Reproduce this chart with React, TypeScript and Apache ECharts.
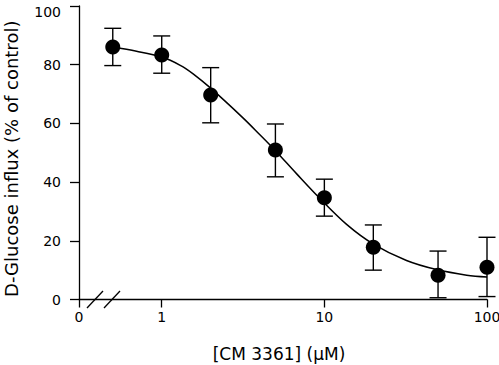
import React, { useEffect, useRef } from "react";
import * as echarts from "echarts";

// Concentrations (µM) of the measured points
const concentrations = [0.5, 1, 2, 5, 10, 20, 50, 100];
// Mean D-glucose influx (% of control)
const means = [86, 83.3, 69.7, 50.9, 34.7, 17.8, 8.3, 11];
// Error bar ends
const upper = [92.4, 89.8, 79, 59.8, 41, 25.4, 16.5, 21.2];
const lower = [79.7, 77.1, 60.2, 41.8, 28.4, 10, 0.6, 1];

// Fitted curve
const curveX = [0.5, 0.7, 1, 1.3, 1.56, 2, 3.17, 4, 5, 6.76, 9.4, 13.7, 20, 32, 49, 75, 100];
const curveY = [86, 84.6, 82.6, 79.8, 76.9, 72.0, 61.8, 56.2, 50.7, 42.8, 34.4, 25.6, 18.9, 13.3, 10.2, 8.3, 7.7];

// Axis settings
const xMin = 0.31;
const xMax = 100;
const yTicks = [0, 20, 40, 60, 80, 100];

const FONT = "DejaVu Sans";

export default function App() {
  const ref = useRef<HTMLDivElement>(null);
  useEffect(() => {
    if (!ref.current) return;
    const chart = echarts.init(ref.current, null, { renderer: "svg" });
    const points = concentrations.map((c, i) => [c, means[i]]);
    const bars = concentrations.map((c, i) => [c, lower[i], upper[i]]);
    const curve = curveX.map((c, i) => [c, curveY[i]]);
    chart.setOption({
      animation: false,
      backgroundColor: "#ffffff",
      grid: { left: 79, right: 12, top: 6, bottom: 65.5, containLabel: false, outerBoundsMode: "none" },
      xAxis: {
        type: "log",
        logBase: 10,
        min: xMin,
        max: xMax,
        name: "[CM 3361] (\u00b5M)",
        nameLocation: "middle",
        nameGap: 46,
        nameTextStyle: { fontFamily: FONT, fontSize: 17, color: "#000", padding: [0, 8, 0, 0] },
        axisLine: { show: true, lineStyle: { color: "#000", width: 1.3 } },
        axisTick: { show: true, inside: false, length: 8, lineStyle: { color: "#000", width: 1.3 } },
        axisLabel: {
          fontFamily: FONT,
          fontSize: 14,
          color: "#000",
          margin: 10,
          showMinLabel: true,
          formatter: (v: number) => (v < 0.5 ? "0" : String(Math.round(v))),
        },
        splitLine: { show: false },
        minorTick: { show: false },
      },
      yAxis: {
        type: "value",
        min: yTicks[0],
        max: yTicks[yTicks.length - 1],
        interval: 20,
        name: "D-Glucose influx (% of control)",
        nameLocation: "middle",
        nameGap: 59,
        nameTextStyle: { fontFamily: FONT, fontSize: 18, color: "#000", padding: [0, 12, 0, 0] },
        axisLine: { show: true, lineStyle: { color: "#000", width: 1.3 } },
        axisTick: { show: true, inside: false, length: 9, lineStyle: { color: "#000", width: 1.3 } },
        axisLabel: {
          fontFamily: FONT,
          fontSize: 14,
          lineHeight: 11,
          color: "#000",
          margin: 18,
          verticalAlignMaxLabel: "top",
        },
        splitLine: { show: false },
      },
      graphic: [
        { type: "line", shape: { x1: 87, y1: 308, x2: 103, y2: 291 }, style: { stroke: "#000", lineWidth: 1.3 } },
        { type: "line", shape: { x1: 104, y1: 308, x2: 120, y2: 291 }, style: { stroke: "#000", lineWidth: 1.3 } },
      ],
      series: [
        {
          type: "line",
          data: curve,
          smooth: 0.35,
          showSymbol: false,
          lineStyle: { color: "#000", width: 1.5 },
          z: 2,
        },
        {
          type: "custom",
          data: bars,
          z: 3,
          renderItem: (params: any, api: any) => {
            const x = api.value(0);
            const lo = api.coord([x, api.value(1)]);
            const hi = api.coord([x, api.value(2)]);
            const hw = 8.5;
            const style = { stroke: "#000", lineWidth: 1.4 };
            return {
              type: "group",
              children: [
                { type: "line", shape: { x1: hi[0], y1: hi[1], x2: lo[0], y2: lo[1] }, style },
                { type: "line", shape: { x1: hi[0] - hw, y1: hi[1], x2: hi[0] + hw, y2: hi[1] }, style },
                { type: "line", shape: { x1: lo[0] - hw, y1: lo[1], x2: lo[0] + hw, y2: lo[1] }, style },
              ],
            };
          },
        },
        {
          type: "scatter",
          data: points,
          symbol: "circle",
          symbolSize: 15,
          itemStyle: { color: "#000", opacity: 1 },
          z: 4,
        },
      ],
    });
    return () => chart.dispose();
  }, []);
  return (
    <div
      ref={ref}
      style={{ position: "fixed", left: 0, top: 0, width: 499, height: 365, background: "#fff" }}
    />
  );
}
